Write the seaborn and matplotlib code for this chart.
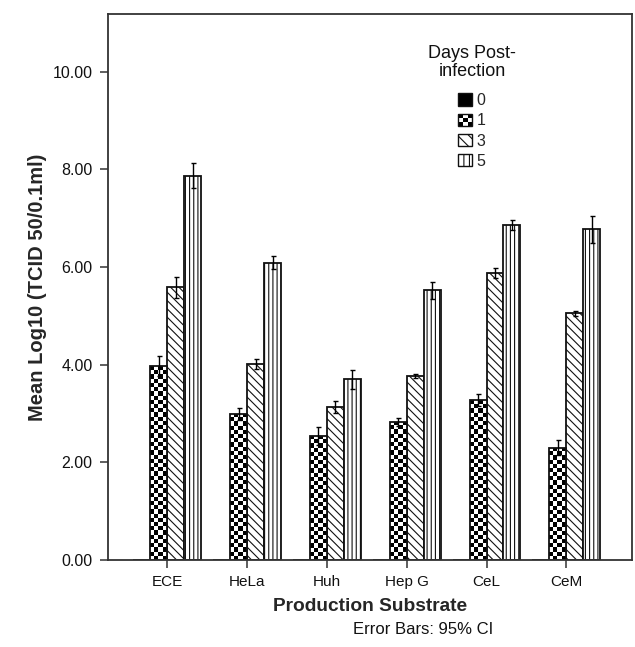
import numpy as np
import pandas as pd
import matplotlib
matplotlib.use("Agg")
import matplotlib.pyplot as plt
import seaborn as sns
from matplotlib.patches import Rectangle
from matplotlib.legend_handler import HandlerBase

substrates = ["ECE", "HeLa", "Huh", "Hep G", "CeL", "CeM"]
days = ["0", "1", "3", "5"]
day0 = [0.0, 0.0, 0.0, 0.0, 0.0, 0.0]
day1 = [3.97, 2.99, 2.54, 2.83, 3.27, 2.30]
day3 = [5.58, 4.01, 3.13, 3.76, 5.87, 5.05]
day5 = [7.87, 6.09, 3.70, 5.52, 6.86, 6.77]
err0 = [0.0, 0.0, 0.0, 0.0, 0.0, 0.0]
err1 = [0.20, 0.12, 0.19, 0.08, 0.12, 0.15]
err3 = [0.21, 0.10, 0.13, 0.04, 0.10, 0.05]
err5 = [0.25, 0.13, 0.20, 0.17, 0.10, 0.28]
yticks = [0, 2, 4, 6, 8, 10]
ytick_labels = ["0.00", "2.00", "4.00", "6.00", "8.00", "10.00"]

sns.set_style("white")
plt.rcParams["font.family"] = ["Liberation Sans", "DejaVu Sans"]
plt.rcParams["hatch.linewidth"] = 0.8

rows = []
for d, vals, errs in zip(days, [day0, day1, day3, day5], [err0, err1, err3, err5]):
    for s, v, e in zip(substrates, vals, errs):
        rows.append({"Substrate": s, "Day": d, "Value": v, "Err": e})
df = pd.DataFrame(rows)

W, H = 635, 647
fig = plt.figure(figsize=(6.35, 6.47), dpi=100)
ax = fig.add_axes([108 / W, (H - 560) / H, (632 - 108) / W, (560 - 14) / H])

sns.barplot(data=df, x="Substrate", y="Value", hue="Day", order=substrates,
            hue_order=days, width=0.85, gap=0, errorbar=None, legend=False,
            edgecolor="#111111", linewidth=1.3, ax=ax)

XLIM = (-0.743, 5.823)
YLIM = (0, 11.18)
ax.set_xlim(*XLIM)
ax.set_ylim(*YLIM)

styles = {"0": ("black", ""), "1": ("white", ""), "3": ("white", "\\\\\\\\"), "5": ("white", "||||")}
err_lists = {"0": err0, "1": err1, "3": err3, "5": err5}
val_lists = {"0": day0, "1": day1, "3": day3, "5": day5}
checker_patches = []
for d, cont in zip(days, ax.containers):
    fc, h = styles[d]
    for p in cont.patches:
        p.set_facecolor(fc)
        p.set_hatch(h)
        p.set_edgecolor("#111111")
    if d == "1":
        checker_patches = list(cont.patches)
    if d != "0":
        xs = [p.get_x() + p.get_width() / 2 for p in cont.patches]
        ax.errorbar(xs, val_lists[d], yerr=err_lists[d], fmt="none",
                    ecolor="black", elinewidth=1.0, capsize=1.8, capthick=1.0, zorder=5)

# checkerboard texture clipped to the day-1 bars
cell = 4.2
for p in checker_patches:
    x0, y0 = p.get_x(), p.get_y()
    x1, y1 = x0 + p.get_width(), y0 + p.get_height()
    (px0, py0), (px1, py1) = ax.transData.transform([(x0, y0), (x1, y1)])
    nc = max(1, int(round((px1 - px0) / cell)))
    nr = max(1, int(round((py1 - py0) / cell)))
    grid = (np.add.outer(np.arange(nr), np.arange(nc)) % 2).astype(float)
    im = ax.imshow(grid, cmap="gray_r", vmin=0, vmax=1, extent=(x0, x1, y0, y1),
                   origin="lower", interpolation="nearest", aspect="auto", zorder=p.get_zorder())
    im.set_clip_path(p)
    p.set_facecolor("none")
    p.set_zorder(p.get_zorder() + 0.1)

ax.set_xlim(*XLIM)
ax.set_ylim(*YLIM)

for sp in ax.spines.values():
    sp.set_visible(True)
    sp.set_color("#333333")
    sp.set_linewidth(1.3)

ax.set_yticks(yticks)
ax.set_yticklabels(ytick_labels)
ax.tick_params(axis="both", which="both", direction="out", length=6, width=1.1,
               color="#333333", labelcolor="#111111", bottom=True, left=True)
ax.tick_params(axis="y", pad=5, labelsize=11.5)
ax.tick_params(axis="x", pad=5, labelsize=11)
ax.set_xlabel("Production Substrate", fontsize=13.8, fontweight="bold", labelpad=6)
ax.set_ylabel("Mean Log10 (TCID 50/0.1ml)", fontsize=14.5, fontweight="bold", labelpad=4)

fig.text(423 / W, 1 - 630 / H, "Error Bars: 95% CI", ha="center", va="center",
         fontsize=12, color="#111111")

# legend title
fig.text(472 / W, 1 - 62.7 / H, "Days Post-\ninfection", ha="center", va="center",
         multialignment="center", fontsize=13, color="#111111", linespacing=1.1)


class CheckerHandler(HandlerBase):
    def create_artists(self, legend, orig_handle, xdescent, ydescent, width, height, fontsize, trans):
        arts = []
        n = 3
        cw, ch = width / n, height / n
        for i in range(n):
            for j in range(n):
                if (i + j) % 2 == 0:
                    arts.append(Rectangle((-xdescent + i * cw, -ydescent + j * ch), cw, ch,
                                          facecolor="black", edgecolor="none", transform=trans))
        arts.append(Rectangle((-xdescent, -ydescent), width, height, facecolor="none",
                              edgecolor="#111111", linewidth=1.0, transform=trans))
        return arts


h0 = Rectangle((0, 0), 1, 1, facecolor="black", edgecolor="#111111", linewidth=1.0)
h1 = Rectangle((0, 0), 1, 1, facecolor="white", edgecolor="#111111", linewidth=1.0)
h3 = Rectangle((0, 0), 1, 1, facecolor="white", edgecolor="#111111", linewidth=1.0, hatch="\\\\\\")
h5 = Rectangle((0, 0), 1, 1, facecolor="white", edgecolor="#111111", linewidth=1.0, hatch="|||")
leg = fig.legend([h0, h1, h3, h5], days,
                 handler_map={h1: CheckerHandler()},
                 loc="upper left", bbox_to_anchor=(458 / W, 1 - 93 / H),
                 frameon=False, fontsize=11.5, handlelength=0.9,
                 handleheight=0.8, handletextpad=0.25, labelspacing=0.33, borderpad=0,
                 borderaxespad=0)

fig.savefig("out.png", dpi=100)
